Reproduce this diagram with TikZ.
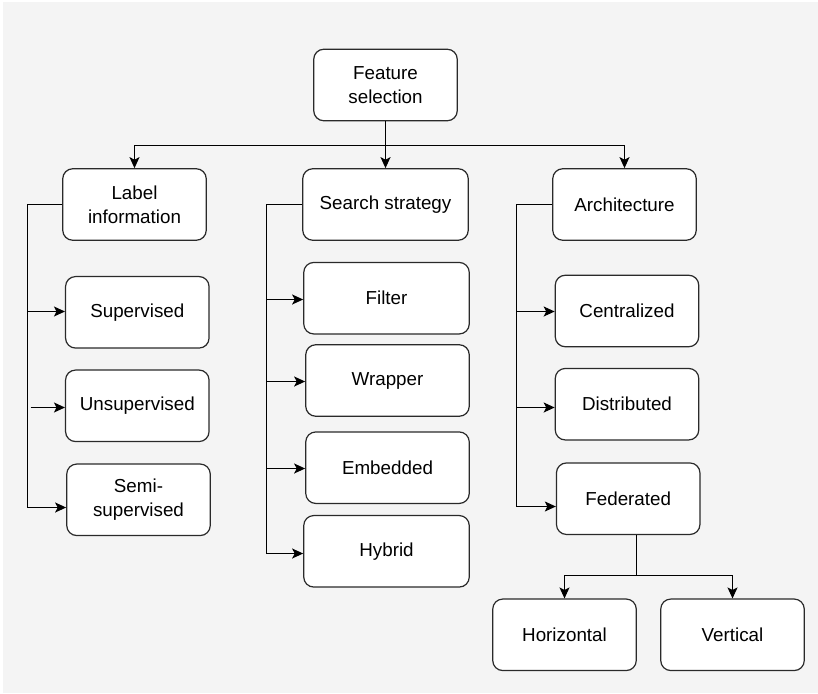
\documentclass[tikz,border=0pt]{standalone}
\usepackage{fontspec}
\setmainfont{Liberation Sans}
\usetikzlibrary{arrows.meta,calc}
\definecolor{pagebg}{HTML}{F4F4F4}
\definecolor{edge}{HTML}{2A2A2A}
\begin{document}
\begin{tikzpicture}[x=1pt,y=-1pt,
  box/.style={draw=edge,fill=white,line width=1.2pt,rounded corners=10pt,
    minimum width=143.5pt,minimum height=71.5pt,inner sep=0pt,align=center,
    font=\fontsize{18.8}{24}\selectfont},
  widebox/.style={box,minimum width=165.5pt},
  conn/.style={draw=black,line width=1.1pt},
  tip/.tip={Stealth[length=11pt,width=10pt,inset=2.5pt]},
  arr/.style={conn,-tip},
  twoarr/.style={conn,tip-tip}]
\useasboundingbox (0,0) rectangle (818,693);
\fill[white] (0,0) rectangle (818,693);
\fill[pagebg] (3,2) rectangle (818,693);

% root and the three criteria
\node[box] (fs) at (385.5,85) {Feature\\selection};
\node[box] (li) at (134.5,204.5) {Label\\information};
\node[widebox] (ss) at (385.5,204.5) {Search strategy};
\node[box] (ar) at (624.5,204.5) {Architecture};

% label information
\node[box] (sup)  at (137.3,312.3) {Supervised};
\node[box] (uns)  at (137.3,405.8) {Unsupervised};
\node[box] (semi) at (138.5,499.8) {Semi-\\supervised};

% search strategy
\node[widebox] (fil) at (386.5,298.2) {Filter};
\node[widebox,minimum width=163.5pt] (wra) at (387.5,380.5) {Wrapper};
\node[widebox,minimum width=163.5pt] (emb) at (387.5,467.7) {Embedded};
\node[widebox] (hyb) at (386.5,551.3) {Hybrid};

% architecture
\node[box] (cen) at (627,311) {Centralized};
\node[box] (dis) at (627,404.2) {Distributed};
\node[box] (fed) at (628.2,498.7) {Federated};
\node[box] (hor) at (564.5,634.8) {Horizontal};
\node[box] (ver) at (732.5,634.8) {Vertical};

% bus lines and spines
\coordinate (bus) at (0,145.5);
\coordinate (lsp) at (27.5,0);
\coordinate (ssp) at (266.5,0);
\coordinate (asp) at (516.5,0);
\coordinate (fbus) at (0,575.5);
\coordinate (fout) at ($(fed.south)+(8.3,0)$);

% root to criteria
\draw[twoarr] (li.north) -- (li.north |- bus) -- (ar.north |- bus) -- (ar.north);
\draw[arr] (fs.south) -- (ss.north);

% label information branches
\coordinate (supin) at ($(sup.west)+(0,-0.8)$);
\coordinate (unsin) at ($(uns.west)+(0,1.7)$);
\coordinate (semiin) at ($(semi.west)+(0,7.7)$);
\draw[arr] (li.west) -| (semiin -| lsp) -- (semiin);
\draw[arr] (supin -| lsp) -- (supin);
\draw[arr] ($(unsin -| lsp)+(3,0)$) -- (unsin);

% search strategy branches
\coordinate (filin) at ($(fil.west)+(0,1.3)$);
\coordinate (wrain) at ($(wra.west)+(0,1)$);
\coordinate (embin) at ($(emb.west)+(0,0.8)$);
\coordinate (hybin) at ($(hyb.west)+(0,2.2)$);
\draw[arr] (ss.west) -| (hybin -| ssp) -- (hybin);
\draw[arr] (filin -| ssp) -- (filin);
\draw[arr] (wrain -| ssp) -- (wrain);
\draw[arr] (embin -| ssp) -- (embin);

% architecture branches
\coordinate (cenin) at ($(cen.west)+(0,0.5)$);
\coordinate (disin) at ($(dis.west)+(0,3.3)$);
\coordinate (fedin) at ($(fed.west)+(0,7.8)$);
\draw[arr] (ar.west) -| (fedin -| asp) -- (fedin);
\draw[arr] (cenin -| asp) -- (cenin);
\draw[arr] (disin -| asp) -- (disin);

% federated split
\draw[conn] (fout) -- (fout |- fbus);
\draw[twoarr] (hor.north) -- (hor.north |- fbus) -- (ver.north |- fbus) -- (ver.north);
\end{tikzpicture}
\end{document}
